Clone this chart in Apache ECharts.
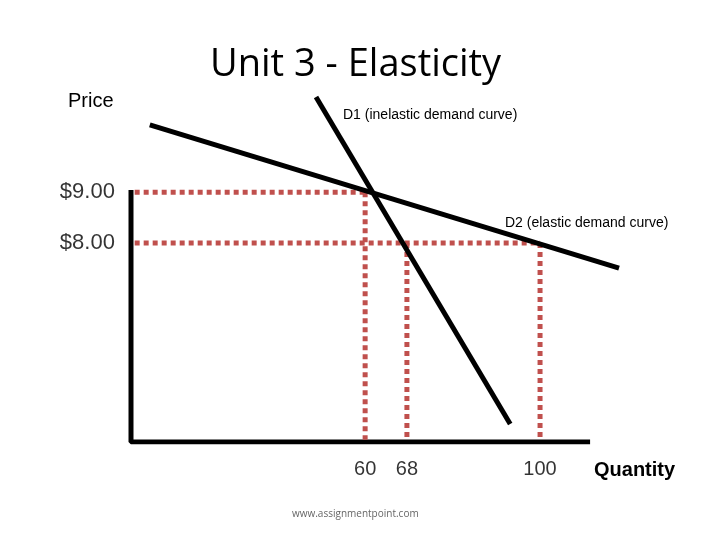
<!DOCTYPE html>
<html><head><meta charset="utf-8">
<script src="https://cdn.jsdelivr.net/npm/echarts@6/dist/echarts.min.js"></script>
<style>html,body{margin:0;background:#fff}#c{width:720px;height:540px}</style>
</head><body><div id="c"></div>
<script>
// axis units: x 0..110, y 0..100
const quantities = [51, 60.1, 89.1];
const quantityLabels = ["60", "68", "100"];
const prices = [65.4, 52.1];
const priceLabels = ["$9.00", "$8.00"];
const d1 = [[40.3, 90.3], [82.6, 4.7]];
const d2 = [[4.1, 83], [106.3, 45.5]];
const axesPts = [[0, 66], [0, 0], [100, 0]];

const chart = echarts.init(document.getElementById('c'));
const red = '#c0504d';
const dot = {color: red, width: 5, type: [5, 4]};
function seg(data, style) {
  return {type: 'line', data, symbol: 'none', lineStyle: style, silent: true, animation: false};
}
const lbl = (txt, size) => ({show: true, formatter: txt, fontSize: size, color: '#000', position: 'inside', fontFamily: 'Liberation Sans'});
const series = [
  seg(axesPts, {color: '#000', width: 5}),
  seg([[0.8, prices[0]], [quantities[0], prices[0]]], dot),
  seg([[quantities[0], prices[0]], [quantities[0], 0.6]], dot),
  seg([[0.8, prices[1]], [quantities[2], prices[1]]], dot),
  seg([[quantities[1], prices[1]], [quantities[1], 0.6]], dot),
  seg([[quantities[2], prices[1]], [quantities[2], 0.6]], dot),
  seg(d1, {color: '#000', width: 5}),
  seg(d2, {color: '#000', width: 5}),
  {type: 'scatter', symbolSize: 2, clip: false, silent: true, animation: false, itemStyle: {color: 'rgba(0,0,0,0)'},
   data: quantities.map((q, i) => ({value: [q, -7.3], label: lbl(quantityLabels[i], 20)}))},
  {type: 'scatter', symbolSize: 2, clip: false, silent: true, animation: false, itemStyle: {color: 'rgba(0,0,0,0)'},
   data: prices.map((p, i) => ({value: [-9.5, p], label: lbl(priceLabels[i], 22)}))}
];
chart.setOption({
  grid: {left: 131, top: 60, width: 505, height: 382},
  xAxis: {type: 'value', min: 0, max: 110, show: false},
  yAxis: {type: 'value', min: 0, max: 100, show: false},
  series,
  graphic: [
    {type: 'text', left: 210, top: 46, style: {text: 'Unit 3 - Elasticity', font: '38px "Open Sans", sans-serif', fill: '#000'}},
    {type: 'text', left: 68, top: 91, style: {text: 'Price', font: '20px "Liberation Sans", sans-serif', fill: '#000'}},
    {type: 'text', left: 343, top: 108, style: {text: 'D1 (inelastic demand curve)', font: '14px "Liberation Sans", sans-serif', fill: '#000'}},
    {type: 'text', left: 505, top: 216, style: {text: 'D2 (elastic demand curve)', font: '14px "Liberation Sans", sans-serif', fill: '#000'}},
    {type: 'text', left: 594, top: 460, style: {text: 'Quantity', font: 'bold 20px "Liberation Sans", sans-serif', fill: '#000'}},
    {type: 'text', left: 292, top: 509, style: {text: 'www.assignmentpoint.com', font: '10px "Open Sans", sans-serif', fill: '#666'}}
  ]
});
</script></body></html>
